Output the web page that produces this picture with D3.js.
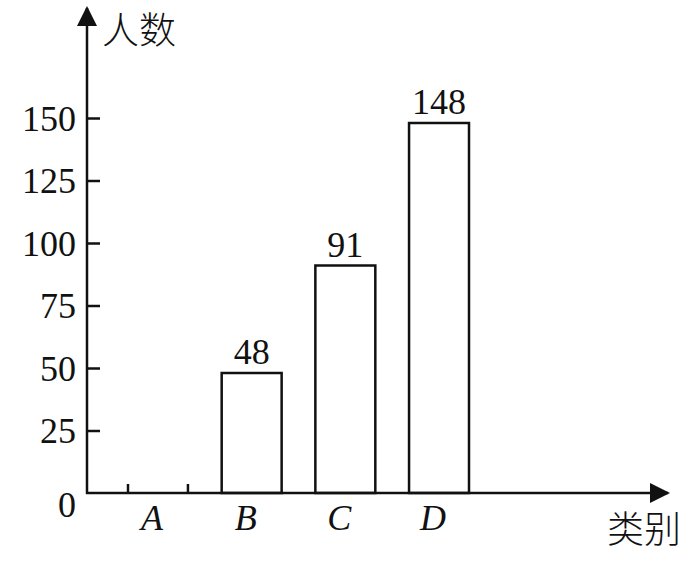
<!DOCTYPE html>
<html lang="zh">
<head>
    <meta charset="UTF-8">
    <title>人数统计</title>
    <script src="https://d3js.org/d3.v7.min.js"></script>
    <style>
        body { margin: 0; background: #fff; }
        svg { display: block; }
        .num { font-family: "Liberation Serif", "DejaVu Serif", serif; font-size: 36px; fill: #111; }
        .cat { font-family: "Liberation Serif", serif; font-style: italic; font-size: 36px; fill: #111; }
        .cjk { font-family: "Noto Sans CJK SC", sans-serif; font-size: 37px; font-weight: 300; fill: #111; }
        .bar { fill: #fff; stroke: #111; stroke-width: 2.5; }
    </style>
</head>
<body>
    <svg id="chart" width="695" height="561"></svg>

    <script>
        // data
        const categories = ["A", "B", "C", "D"];
        const values = [0, 48, 91, 148];
        const yTicks = [25, 50, 75, 100, 125, 150];

        const svg = d3.select("#chart");
        const originX = 87, originY = 493;

        const y = d3.scaleLinear().domain([0, 150]).range([originY, 118]);
        const x = d3.scaleBand()
            .domain(categories)
            .range([128, 469])
            .paddingInner(0.36)
            .paddingOuter(0);

        // arrow head
        svg.append("defs").append("marker")
            .attr("id", "arrow")
            .attr("viewBox", "0 0 10 10")
            .attr("refX", 9)
            .attr("refY", 5)
            .attr("markerUnits", "userSpaceOnUse")
            .attr("markerWidth", 20)
            .attr("markerHeight", 20)
            .attr("orient", "auto")
            .append("path")
            .attr("d", "M 0 0 L 10 5 L 0 10 Z")
            .attr("fill", "#111");

        const rows = categories.map((c, i) => ({ c, v: values[i] }));

        // bars
        svg.selectAll(".bar")
            .data(rows.filter(d => d.v > 0))
            .enter()
            .append("rect")
            .attr("class", "bar")
            .attr("x", d => x(d.c))
            .attr("y", d => y(d.v))
            .attr("width", x.bandwidth())
            .attr("height", d => y(0) - y(d.v));

        // zero-value category: only the edge marks
        rows.filter(d => d.v === 0).forEach(d => {
            [x(d.c), x(d.c) + x.bandwidth()].forEach(px => {
                svg.append("line")
                    .attr("x1", px).attr("x2", px)
                    .attr("y1", originY).attr("y2", originY - 9)
                    .attr("stroke", "#111").attr("stroke-width", 2.5);
            });
        });

        // value labels
        svg.selectAll(".val")
            .data(rows.filter(d => d.v > 0))
            .enter()
            .append("text")
            .attr("class", "num")
            .attr("x", d => x(d.c) + x.bandwidth() / 2)
            .attr("y", d => y(d.v) - 9)
            .attr("text-anchor", "middle")
            .text(d => d.v);

        // y axis ticks + labels
        const yAxis = d3.axisLeft(y)
            .tickValues(yTicks)
            .tickSizeInner(-13)
            .tickSizeOuter(0)
            .tickPadding(11);
        const gy = svg.append("g")
            .attr("transform", `translate(${originX},0)`)
            .call(yAxis);
        gy.select(".domain").remove();
        gy.selectAll(".tick line").attr("stroke", "#111").attr("stroke-width", 2.5);
        gy.selectAll(".tick text")
            .attr("class", "num")
            .attr("font-family", null)
            .attr("font-size", null)
            .attr("fill", null)
            .attr("dy", "0.34em");

        // origin label
        svg.append("text")
            .attr("class", "num")
            .attr("x", originX - 11)
            .attr("y", originY + 24)
            .attr("text-anchor", "end")
            .text("0");

        // axes lines with arrows
        svg.append("line")
            .attr("x1", originX).attr("y1", originY + 1)
            .attr("x2", originX).attr("y2", 8)
            .attr("stroke", "#111").attr("stroke-width", 2.5)
            .attr("marker-end", "url(#arrow)");
        svg.append("line")
            .attr("x1", originX - 1).attr("y1", originY)
            .attr("x2", 668).attr("y2", originY)
            .attr("stroke", "#111").attr("stroke-width", 2.5)
            .attr("marker-end", "url(#arrow)");

        // category labels
        svg.selectAll(".cat")
            .data(categories)
            .enter()
            .append("text")
            .attr("class", "cat")
            .attr("x", d => x(d) + x.bandwidth() / 2 - 6)
            .attr("y", originY + 37)
            .attr("text-anchor", "middle")
            .text(d => d);

        // axis titles
        svg.append("text")
            .attr("class", "cjk")
            .attr("x", 102)
            .attr("y", 44)
            .text("人数");
        svg.append("text")
            .attr("class", "cjk")
            .attr("x", 681)
            .attr("y", 543)
            .attr("text-anchor", "end")
            .text("类别");
    </script>
</body>
</html>
